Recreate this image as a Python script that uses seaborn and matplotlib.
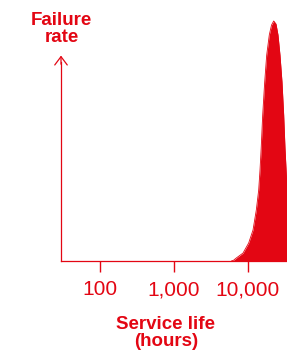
import matplotlib
matplotlib.use("Agg")
import matplotlib.pyplot as plt
import seaborn as sns
import numpy as np

# failure-rate curve (relative to the peak)
hours = [6000, 6425, 7010, 8640, 10310, 11800, 13080, 14090, 14680, 15230,
         15960, 16990, 18080, 19610, 21010, 22500, 24170, 25720, 27370,
         29140, 30720, 31990, 33740, 36230]
rate = [0.0, 0.003, 0.0125, 0.033, 0.075, 0.129, 0.2125, 0.296, 0.379, 0.471,
        0.608, 0.746, 0.858, 0.942, 0.983, 1.0, 0.9875, 0.942, 0.858,
        0.746, 0.608, 0.471, 0.329, 0.19]

tick_vals = [100, 1000, 10000]
tick_labels = ["100", "1,000", "10,000"]

red = "#e30613"

sns.set_style("white")
plt.rcParams["font.family"] = ["Liberation Sans", "DejaVu Sans"]

fig = plt.figure(figsize=(2.87, 3.53), dpi=100)
ax = fig.add_axes([61 / 287, 92 / 353, 226 / 287, 246 / 353])

sns.lineplot(x=hours, y=rate, color=red, linewidth=0.6, ax=ax)
ax.fill_between(hours, rate, 0, color=red, linewidth=0)

ax.set_xscale("log")
ax.set_xlim(29.65, 34060)
ax.set_ylim(0, 1.025)

ax.set_xticks(tick_vals)
ax.set_xticklabels(tick_labels)
ax.xaxis.set_minor_locator(matplotlib.ticker.NullLocator())
ax.set_yticks([])
ax.tick_params(axis="x", direction="out", length=8, width=1, color=red,
               labelcolor=red, labelsize=15, pad=6, bottom=True)

for s in ["top", "right"]:
    ax.spines[s].set_visible(False)
for s in ["left", "bottom"]:
    ax.spines[s].set_color(red)
    ax.spines[s].set_linewidth(0.9)
ax.spines["left"].set_bounds(0, 0.83)

# arrow head on the y axis
ax.annotate("", xy=(0, 0.835), xytext=(0, 0.80), xycoords="axes fraction",
            textcoords="axes fraction",
            arrowprops=dict(arrowstyle="->,head_length=0.6,head_width=0.45",
                            color=red, lw=0.9, mutation_scale=10,
                            shrinkA=0, shrinkB=0))

ax.set_xlabel("Service life\n(hours)", color=red, fontsize=13.5,
              fontweight="bold", linespacing=1.0)
ax.xaxis.set_label_coords((165.7 - 61) / 226, -(316 - 261) / 246)
ax.xaxis.label.set_va("top")

fig.text(61.5 / 287, 1 - 12 / 353, "Failure\nrate", color=red, fontsize=13.5,
         fontweight="bold", ha="center", va="top", linespacing=1.0)

fig.savefig("out.png", dpi=100)
